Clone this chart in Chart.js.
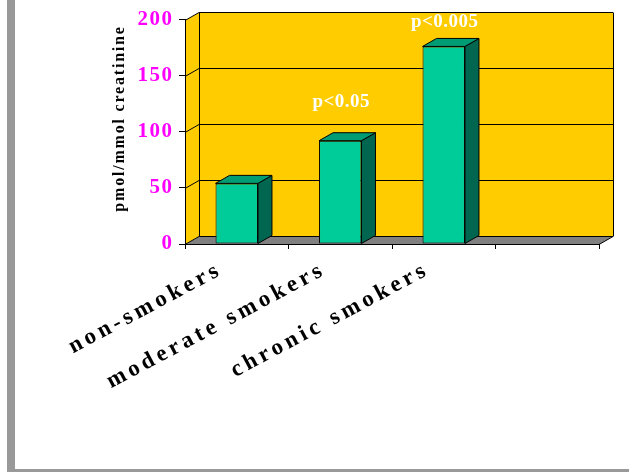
<!DOCTYPE html>
<html><head><meta charset="utf-8">
<script src="https://cdn.jsdelivr.net/npm/chart.js@4"></script>
<style>html,body{margin:0;padding:0;background:#fff;overflow:hidden}#wrap{width:629px;height:472px;position:relative}</style>
</head><body><div id="wrap"><canvas id="c" width="629" height="472"></canvas></div>
<script>
const categories = ['non-smokers', 'moderate smokers', 'chronic smokers', ''];
const values = [54, 92, 176, null];
const yTicks = [0, 50, 100, 150, 200];
const annotationTexts = ['', 'p<0.05', 'p<0.005', ''];
const annotationValues = [null, 122, 193, null];
const yTitle = 'pmol/mmol creatinine ';

const DX = 14, DY = -8;
const FONT = 'Liberation Serif';

function spaced(fn, spacing) {
  return function (...a) {
    const ctx = this.ctx;
    ctx.save();
    ctx.letterSpacing = spacing;
    fn.apply(this, a);
    ctx.restore();
  };
}

const spacingPlugin = {
  id: 'spacing',
  beforeDraw(chart) {
    const x = chart.scales.x, y = chart.scales.y;
    if (!x._wrapped) { x.drawLabels = spaced(x.drawLabels, '4px'); x._wrapped = true; }
    if (!y._wrapped) { y.drawLabels = spaced(y.drawLabels, '1.5px'); y.drawTitle = spaced(y.drawTitle, '1.8px'); y._wrapped = true; }
  }
};

const scenePlugin = {
  id: 'scene',
  beforeDraw(chart) {
    const { ctx, chartArea: a, scales: { y } } = chart;
    ctx.save();
    ctx.fillStyle = '#999999';
    ctx.fillRect(7, 0, 8, 472);
    ctx.fillRect(7, 469, 622, 3);
    const L = a.left, R = a.right;
    const T = Math.round(y.getPixelForValue(yTicks[yTicks.length - 1])) + 0.5;
    const B = Math.round(y.getPixelForValue(yTicks[0])) + 0.5;
    ctx.fillStyle = '#FFCC00';
    ctx.beginPath();
    ctx.moveTo(L, B); ctx.lineTo(L, T); ctx.lineTo(L + DX, T + DY);
    ctx.lineTo(R + DX, T + DY); ctx.lineTo(R + DX, B + DY); ctx.lineTo(L + DX, B + DY);
    ctx.closePath(); ctx.fill();
    ctx.fillStyle = '#808080';
    ctx.beginPath();
    ctx.moveTo(L, B); ctx.lineTo(R, B); ctx.lineTo(R + DX, B + DY); ctx.lineTo(L + DX, B + DY);
    ctx.closePath(); ctx.fill();
    ctx.strokeStyle = '#000'; ctx.lineWidth = 1;
    yTicks.forEach(v => {
      const py = Math.round(y.getPixelForValue(v)) + 0.5;
      ctx.beginPath();
      ctx.moveTo(L, py); ctx.lineTo(L + DX, py + DY); ctx.lineTo(R + DX, py + DY);
      ctx.stroke();
    });
    ctx.beginPath();
    ctx.moveTo(Math.round(L + DX) + 0.5, T + DY); ctx.lineTo(Math.round(L + DX) + 0.5, B + DY);
    ctx.moveTo(Math.round(R + DX) + 0.5, T + DY); ctx.lineTo(Math.round(R + DX) + 0.5, B + DY);
    ctx.moveTo(R, B); ctx.lineTo(R + DX, B + DY);
    ctx.stroke();
    ctx.restore();
  }
};

const bar3dPlugin = {
  id: 'bar3d',
  afterDatasetsDraw(chart) {
    const { ctx, scales: { x, y } } = chart;
    const meta = chart.getDatasetMeta(0);
    ctx.save();
    ctx.strokeStyle = '#000'; ctx.lineWidth = 1;
    meta.data.forEach((bar, i) => {
      if (values[i] == null) return;
      const p = bar.getProps(['x', 'y', 'base', 'width'], true);
      const l = p.x - p.width / 2, r = p.x + p.width / 2, t = p.y, b = p.base;
      ctx.fillStyle = '#006650';
      ctx.beginPath();
      ctx.moveTo(r, t); ctx.lineTo(r + DX, t + DY); ctx.lineTo(r + DX, b + DY); ctx.lineTo(r, b);
      ctx.closePath(); ctx.fill(); ctx.stroke();
      ctx.fillStyle = '#009C74';
      ctx.beginPath();
      ctx.moveTo(l, t); ctx.lineTo(l + DX, t + DY); ctx.lineTo(r + DX, t + DY); ctx.lineTo(r, t);
      ctx.closePath(); ctx.fill(); ctx.stroke();
    });
    ctx.fillStyle = '#FFFFFF';
    ctx.font = 'bold 19px "' + FONT + '"';
    ctx.letterSpacing = '0.5px';
    ctx.textAlign = 'center';
    ctx.textBaseline = 'alphabetic';
    annotationTexts.forEach((txt, i) => {
      if (!txt || annotationValues[i] == null) return;
      ctx.fillText(txt, x.getPixelForValue(i) + 1, y.getPixelForValue(annotationValues[i]));
    });
    ctx.restore();
  }
};

new Chart(document.getElementById('c'), {
  type: 'bar',
  data: {
    labels: categories,
    datasets: [{
      data: values,
      backgroundColor: '#00CC99',
      borderColor: '#000',
      borderWidth: 1,
      borderSkipped: false,
      barPercentage: 0.41,
      categoryPercentage: 1
    }]
  },
  options: {
    responsive: false,
    animation: false,
    events: [],
    layout: { padding: { top: 19.5, right: 30, left: 0, bottom: 0 } },
    plugins: { legend: { display: false }, tooltip: { enabled: false } },
    scales: {
      x: {
        type: 'category',
        offset: true,
        grid: { display: true, drawOnChartArea: false, drawTicks: true, tickLength: 5, color: '#000', offset: true, lineWidth: 1 },
        border: { display: true, color: '#000', width: 1 },
        ticks: {
          autoSkip: false, minRotation: 28, maxRotation: 28, padding: 7, labelOffset: -16,
          color: '#000', font: { family: FONT, weight: 'bold', size: 23 }
        },
        afterFit(s) { s.height = 228; }
      },
      y: {
        min: 0, max: 200,
        afterBuildTicks(s) { s.ticks = yTicks.map(v => ({ value: v })); },
        grid: { display: true, drawOnChartArea: false, drawTicks: true, tickLength: 6, color: '#000' },
        border: { display: true, color: '#000', width: 1 },
        ticks: { padding: 5.5, color: '#FF00FF', font: { family: FONT, weight: 'bold', size: 21 } },
        title: {
          display: true, text: yTitle, align: 'end', color: '#000',
          font: { family: FONT, weight: 'bold', size: 16 }, padding: { top: 110.4, bottom: 0 }
        },
        afterFit(s) { s.width = 185; }
      }
    }
  },
  plugins: [spacingPlugin, scenePlugin, bar3dPlugin]
});
</script>
</body></html>
